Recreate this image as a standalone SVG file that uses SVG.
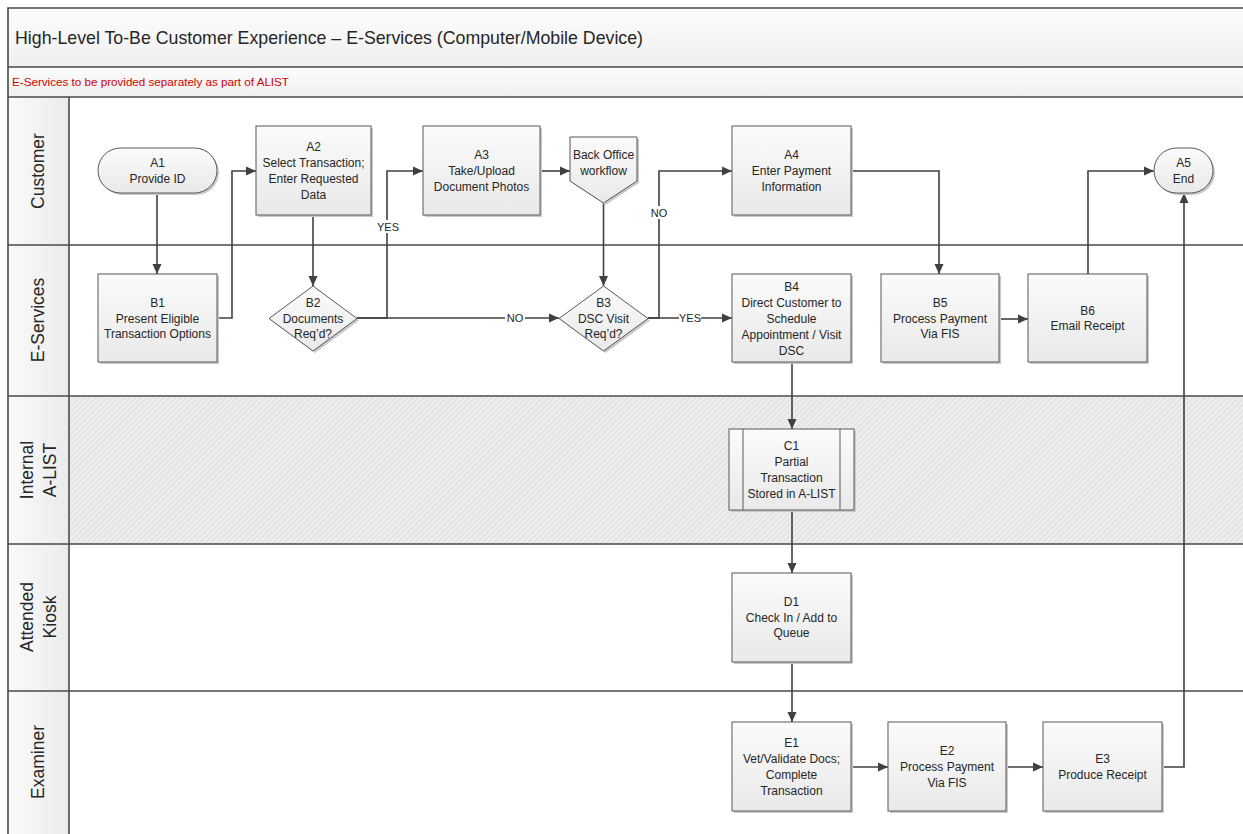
<svg xmlns="http://www.w3.org/2000/svg" width="1243" height="834" viewBox="0 0 1243 834">
<style>
text{font-family:"Liberation Sans",Arial,sans-serif;fill:#262626}
.t{font-size:12px;text-anchor:middle}
.lbl{font-size:11px;text-anchor:middle}
.lane{font-size:17.5px;text-anchor:middle}
.box{fill:url(#gBox);stroke:#595959;stroke-width:1}
.sh{fill:#c9c9c9}
.ln{stroke:#4a4a4a;stroke-width:1.6;fill:none}
.con{stroke:#404040;stroke-width:1.6;fill:none;marker-end:url(#arr)}
.lb{fill:#ffffff}
</style>
<defs>
<linearGradient id="gBox" x1="0" y1="0" x2="0" y2="1"><stop offset="0" stop-color="#fbfbfb"/><stop offset="1" stop-color="#e9e9e9"/></linearGradient>
<linearGradient id="gTitle" x1="0" y1="0" x2="0" y2="1"><stop offset="0" stop-color="#fdfdfd"/><stop offset="1" stop-color="#efefef"/></linearGradient>
<linearGradient id="gHead" x1="0" y1="0" x2="1" y2="0"><stop offset="0" stop-color="#fafafa"/><stop offset="1" stop-color="#ebebeb"/></linearGradient>
<pattern id="hatch" patternUnits="userSpaceOnUse" width="4" height="4" patternTransform="rotate(45)"><rect width="4" height="4" fill="#efefef"/><line x1="1" y1="0" x2="1" y2="4" stroke="#e0e0e0" stroke-width="1.6"/></pattern>
<marker id="arr" viewBox="0 0 10 10" refX="10" refY="5" markerWidth="10" markerHeight="10" markerUnits="userSpaceOnUse" orient="auto"><path d="M0,0.5 L10,5 L0,9.5 Z" fill="#404040"/></marker>
</defs>

<g id="frame">
<rect x="0" y="0" width="1243" height="834" fill="#ffffff"/>
<rect x="8" y="8" width="1240" height="59" fill="url(#gTitle)"/>
<rect x="8" y="67" width="1240" height="30" fill="url(#gTitle)"/>
<rect x="8" y="97" width="61" height="740" fill="url(#gHead)"/>
<rect x="70" y="397" width="1175" height="147" fill="url(#hatch)"/>
<path class="ln" d="M8,837 V8 H1245 M8,67 H1245 M8,97 H1245 M69,97 V837 M8,245 H1245 M8,396 H1245 M8,544 H1245 M8,691 H1245"/>
<text x="15" y="44" font-size="18.5" textLength="628" lengthAdjust="spacingAndGlyphs">High-Level To-Be Customer Experience – E-Services (Computer/Mobile Device)</text>
<text x="12" y="86" font-size="11" style="fill:#d40000" textLength="277" lengthAdjust="spacingAndGlyphs">E-Services to be provided separately as part of ALIST</text>
</g>

<g id="lanes">
<text class="lane" transform="translate(44,171) rotate(-90)">Customer</text>
<text class="lane" transform="translate(44,320) rotate(-90)">E-Services</text>
<text class="lane" transform="translate(33,470) rotate(-90)">Internal</text>
<text class="lane" transform="translate(56,470) rotate(-90)">A-LIST</text>
<text class="lane" transform="translate(33,617) rotate(-90)">Attended</text>
<text class="lane" transform="translate(56,617) rotate(-90)">Kiosk</text>
<text class="lane" transform="translate(44,762) rotate(-90)">Examiner</text>
</g>

<g id="connectors">
<path class="con" d="M157,193 V274"/>
<path class="con" d="M217,318 H232 V171 H256"/>
<path class="con" d="M313,215 V286"/>
<path class="con" d="M357,318 H387 V171 H423"/>
<path class="con" d="M357,318 H559"/>
<path class="con" d="M540,171 H570"/>
<path class="con" d="M603.5,203 V286"/>
<path class="con" d="M648,318 H659 V171 H732"/>
<path class="con" d="M648,318 H732"/>
<path class="con" d="M851,171 H939 V274"/>
<path class="con" d="M999,319 H1028"/>
<path class="con" d="M1088,274 V171 H1154"/>
<path class="con" d="M792,362 V429"/>
<path class="con" d="M792,510 V573"/>
<path class="con" d="M792,662 V722"/>
<path class="con" d="M851,767 H888"/>
<path class="con" d="M1006,767 H1043"/>
<path class="con" d="M1162,767 H1184 V193"/>
<rect class="lb" x="378" y="220" width="20" height="13"/>
<text class="lbl" x="388" y="231">YES</text>
<rect class="lb" x="505" y="312" width="20" height="13"/>
<text class="lbl" x="515" y="322">NO</text>
<rect class="lb" x="650" y="206" width="18" height="13"/>
<text class="lbl" x="659" y="217">NO</text>
<rect class="lb" x="679" y="312" width="22" height="13"/>
<text class="lbl" x="690" y="322">YES</text>
</g>

<g id="A1">
<rect class="sh" x="100" y="150" width="119" height="45" rx="22.5"/>
<rect class="box" x="98" y="148" width="119" height="45" rx="22.5"/>
<text class="t" x="157.5" y="167">A1</text>
<text class="t" x="157.5" y="183">Provide ID</text>
</g>
<g id="A2">
<rect class="sh" x="258" y="128" width="115" height="89"/>
<rect class="box" x="256" y="126" width="115" height="89"/>
<text class="t" x="313.5" y="151">A2</text>
<text class="t" x="313.5" y="167">Select Transaction;</text>
<text class="t" x="313.5" y="183">Enter Requested</text>
<text class="t" x="313.5" y="199">Data</text>
</g>
<g id="A3">
<rect class="sh" x="425" y="128" width="117" height="89"/>
<rect class="box" x="423" y="126" width="117" height="89"/>
<text class="t" x="481.5" y="159">A3</text>
<text class="t" x="481.5" y="175">Take/Upload</text>
<text class="t" x="481.5" y="191">Document Photos</text>
</g>
<g id="backoffice">
<polygon class="sh" points="572,139 639,139 639,183 605.5,205 572,183"/>
<polygon class="box" points="570,137 637,137 637,181 603.5,203 570,181"/>
<text class="t" x="603.5" y="159">Back Office</text>
<text class="t" x="603.5" y="175">workflow</text>
</g>
<g id="A4">
<rect class="sh" x="734" y="128" width="119" height="89"/>
<rect class="box" x="732" y="126" width="119" height="89"/>
<text class="t" x="791.5" y="159">A4</text>
<text class="t" x="791.5" y="175">Enter Payment</text>
<text class="t" x="791.5" y="191">Information</text>
</g>
<g id="A5">
<rect class="sh" x="1156" y="150" width="59" height="45" rx="22.5"/>
<rect class="box" x="1154" y="148" width="59" height="45" rx="22.5"/>
<text class="t" x="1183.5" y="167">A5</text>
<text class="t" x="1183.5" y="183">End</text>
</g>
<g id="B1">
<rect class="sh" x="100" y="276" width="119" height="88"/>
<rect class="box" x="98" y="274" width="119" height="88"/>
<text class="t" x="157.5" y="307">B1</text>
<text class="t" x="157.5" y="323">Present Eligible</text>
<text class="t" x="157.5" y="338">Transaction Options</text>
</g>
<g id="B2">
<polygon class="sh" points="315,288 359,320.5 315,353 271,320.5"/>
<polygon class="box" points="313,286 357,318.5 313,351 269,318.5"/>
<text class="t" x="313" y="307">B2</text>
<text class="t" x="313" y="323">Documents</text>
<text class="t" x="313" y="338">Req’d?</text>
</g>
<g id="B3">
<polygon class="sh" points="605.5,288 650,320.5 605.5,353 561,320.5"/>
<polygon class="box" points="603.5,286 648,318.5 603.5,351 559,318.5"/>
<text class="t" x="603.5" y="307">B3</text>
<text class="t" x="603.5" y="323">DSC Visit</text>
<text class="t" x="603.5" y="338">Req’d?</text>
</g>
<g id="B4">
<rect class="sh" x="734" y="276" width="119" height="88"/>
<rect class="box" x="732" y="274" width="119" height="88"/>
<text class="t" x="791.5" y="291">B4</text>
<text class="t" x="791.5" y="307">Direct Customer to</text>
<text class="t" x="791.5" y="323">Schedule</text>
<text class="t" x="791.5" y="339">Appointment / Visit</text>
<text class="t" x="791.5" y="355">DSC</text>
</g>
<g id="B5">
<rect class="sh" x="883" y="276" width="118" height="88"/>
<rect class="box" x="881" y="274" width="118" height="88"/>
<text class="t" x="940" y="307">B5</text>
<text class="t" x="940" y="323">Process Payment</text>
<text class="t" x="940" y="338">Via FIS</text>
</g>
<g id="B6">
<rect class="sh" x="1030" y="276" width="119" height="88"/>
<rect class="box" x="1028" y="274" width="119" height="88"/>
<text class="t" x="1087.5" y="315">B6</text>
<text class="t" x="1087.5" y="330">Email Receipt</text>
</g>
<g id="C1">
<rect class="sh" x="731" y="431" width="125" height="81"/>
<rect class="box" x="729" y="429" width="125" height="81"/>
<path d="M743,429 V510 M840,429 V510" stroke="#595959" stroke-width="1" fill="none"/>
<text class="t" x="791.5" y="450">C1</text>
<text class="t" x="791.5" y="466">Partial</text>
<text class="t" x="791.5" y="482">Transaction</text>
<text class="t" x="791.5" y="498">Stored in A-LIST</text>
</g>
<g id="D1">
<rect class="sh" x="734" y="575" width="119" height="89"/>
<rect class="box" x="732" y="573" width="119" height="89"/>
<text class="t" x="791.5" y="606">D1</text>
<text class="t" x="791.5" y="622">Check In / Add to</text>
<text class="t" x="791.5" y="637">Queue</text>
</g>
<g id="E1">
<rect class="sh" x="734" y="724" width="119" height="89"/>
<rect class="box" x="732" y="722" width="119" height="89"/>
<text class="t" x="791.5" y="747">E1</text>
<text class="t" x="791.5" y="763">Vet/Validate Docs;</text>
<text class="t" x="791.5" y="779">Complete</text>
<text class="t" x="791.5" y="795">Transaction</text>
</g>
<g id="E2">
<rect class="sh" x="890" y="724" width="118" height="89"/>
<rect class="box" x="888" y="722" width="118" height="89"/>
<text class="t" x="947" y="755">E2</text>
<text class="t" x="947" y="771">Process Payment</text>
<text class="t" x="947" y="787">Via FIS</text>
</g>
<g id="E3">
<rect class="sh" x="1045" y="724" width="119" height="89"/>
<rect class="box" x="1043" y="722" width="119" height="89"/>
<text class="t" x="1102.5" y="763">E3</text>
<text class="t" x="1102.5" y="779">Produce Receipt</text>
</g>
</svg>
